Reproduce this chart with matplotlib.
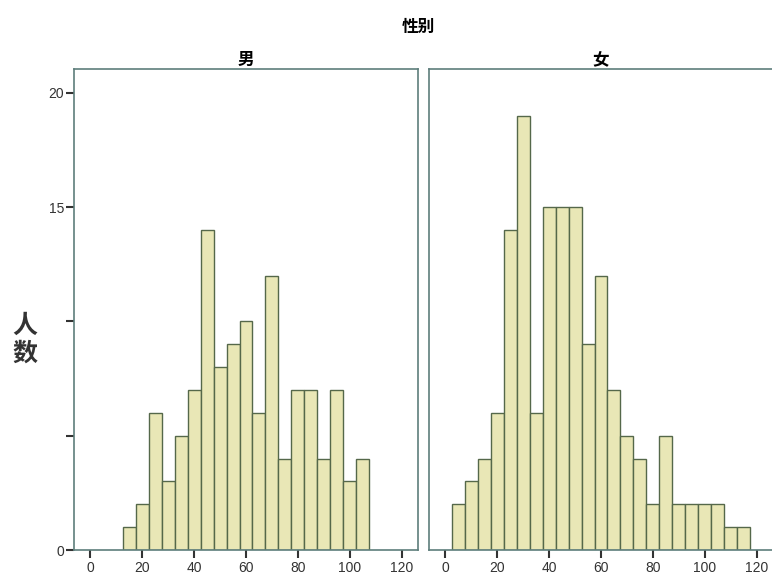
import matplotlib
matplotlib.use("Agg")
import matplotlib.pyplot as plt

plt.rcParams['font.family'] = ['Noto Sans CJK SC', 'DejaVu Sans']

# data
male_centers = [15, 20, 25, 30, 35, 40, 45, 50, 55, 60, 65, 70, 75, 80, 85, 90, 95, 100, 105]
male_counts = [1, 2, 6, 3, 5, 7, 14, 8, 9, 10, 6, 12, 4, 7, 7, 4, 7, 3, 4]
female_centers = [5, 10, 15, 20, 25, 30, 35, 40, 45, 50, 55, 60, 65, 70, 75, 80, 85, 90, 95, 100, 105, 110, 115]
female_counts = [2, 3, 4, 6, 14, 19, 6, 15, 15, 15, 9, 12, 7, 5, 4, 2, 5, 2, 2, 2, 2, 1, 1]
panel_titles = ['男', '女']
x_ticks = [0, 20, 40, 60, 80, 100, 120]
y_ticks = [0, 5, 10, 15, 20]
y_ticklabels = ['0', '', '', '15', '20']
bin_width = 5

W, H = 772, 574
fig = plt.figure(figsize=(W / 100, H / 100), dpi=100)

fill = '#E9E7B6'
edge = '#55684A'
frame = '#5E7E7C'

ax_l = fig.add_axes([74 / W, (H - 550) / H, 344 / W, 481 / H])
ax_r = fig.add_axes([429 / W, (H - 550) / H, 344 / W, 481 / H])

for ax, centers, counts, title in [(ax_l, male_centers, male_counts, panel_titles[0]),
                                   (ax_r, female_centers, female_counts, panel_titles[1])]:
    ax.bar(centers, counts, width=bin_width, color=fill, edgecolor=edge, linewidth=1.0, align='center')
    ax.set_xlim(-6.3, 126.3)
    ax.set_ylim(0, 21.05)
    for s in ax.spines.values():
        s.set_color(frame)
        s.set_linewidth(1.2)
    ax.set_xticks(x_ticks)
    ax.set_xticklabels([str(t) for t in x_ticks], family=['Liberation Sans', 'DejaVu Sans'])
    ax.tick_params(axis='x', direction='out', length=6, width=1.5, color='#333333',
                   labelsize=10, labelcolor='#333333', pad=2)
    ax.set_title(title, fontsize=12, fontweight='bold', pad=3)

ax_l.set_yticks(y_ticks)
ax_l.set_yticklabels(y_ticklabels, family=['Liberation Sans', 'DejaVu Sans'])
ax_l.tick_params(axis='y', direction='out', length=6, width=1.5, color='#333333',
                 labelsize=10, labelcolor='#333333', pad=1)
ax_r.set_yticks([])

fig.text(418 / W, 1 - 27 / H, '性别', ha='center', va='center', fontsize=12, fontweight='bold')
fig.text(25 / W, 1 - 340 / H, '人\n数', ha='center', va='center', fontsize=18,
         fontweight='bold', linespacing=1.2, color='#333333')

fig.savefig('out.png', dpi=100)
